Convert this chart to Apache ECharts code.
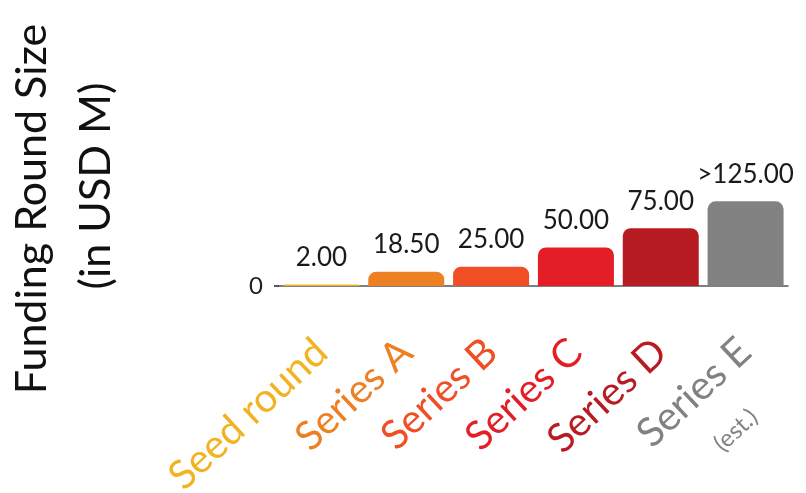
<!DOCTYPE html>
<html><head><meta charset="utf-8">
<script src="https://cdn.jsdelivr.net/npm/echarts@6/dist/echarts.min.js"></script>
<style>html,body{margin:0;padding:0;background:#fff}#c{width:806px;height:493px}</style>
</head><body><div id="c"></div>
<script>
const categories = ['Seed round', 'Series A', 'Series B', 'Series C', 'Series D', 'Series E'];
const subLabels = ['', '', '', '', '', '(est.)'];
// plotted heights (Series E bar is drawn capped, label reads >125.00)
const values = [2, 18.5, 25, 50, 75, 110];
const valueLabels = ['2.00', '18.50', '25.00', '50.00', '75.00', '>125.00'];
const barColors = ['#F2B322', '#EE8024', '#F04E24', '#E31E26', '#B71C23', '#828282'];
const yTickValues = [0];
const yTickLabels = ['0'];
const yTitleLine1 = 'Funding Round Size';
const yTitleLine2 = '(in USD M)';

const chart = echarts.init(document.getElementById('c'));
chart.setOption({
  animation: false,
  backgroundColor: '#fff',
  grid: { left: 279, right: 18, top: 132, bottom: 207, containLabel: false, outerBoundsMode: 'none' },
  xAxis: {
    type: 'category',
    data: categories,
    axisLine: { show: true, lineStyle: { color: '#555', width: 1.5 } },
    axisTick: { show: false },
    axisLabel: {
      interval: 0,
      rotate: 43,
      margin: 60,
      fontFamily: 'Lato',
      fontSize: 40,
      color: (v, i) => barColors[i],
      formatter: (v, i) => subLabels[i] ? '{m|' + v + '}\n{s|' + subLabels[i] + '}' : v,
      rich: {
        m: { fontFamily: 'Lato', fontSize: 40, color: barColors[5], padding: [46, 0, 0, 0] },
        s: { fontFamily: 'Lato', fontSize: 24, color: barColors[5], padding: [24, 40, 0, 0] }
      }
    }
  },
  yAxis: {
    type: 'value',
    min: 0, max: 200, interval: 200,
    splitLine: { show: false },
    axisLine: { show: false },
    axisTick: { show: true, customValues: yTickValues, length: 5, lineStyle: { color: '#222', width: 1.5 } },
    axisLabel: {
      fontFamily: 'Lato', fontSize: 24, color: '#222', margin: 16,
      customValues: yTickValues,
      formatter: (v) => yTickLabels[yTickValues.indexOf(v)]
    },
    name: '{a|' + yTitleLine1 + '}\n{b|' + yTitleLine2 + '}',
    nameLocation: 'middle',
    nameGap: 151,
    nameRotate: 90,
    nameTextStyle: {
      fontFamily: 'Lato', fontSize: 43, color: '#111', lineHeight: 64, align: 'center',
      rich: {
        a: { fontFamily: 'Lato', fontSize: 43, color: '#111', lineHeight: 64 },
        b: { fontFamily: 'Lato', fontSize: 43, color: '#111', lineHeight: 64, padding: [0, 0, 0, 46] }
      }
    }
  },
  series: [{
    type: 'bar',
    data: values.map((v, i) => ({ value: v, itemStyle: { color: barColors[i] } })),
    barWidth: 76,
    itemStyle: { borderRadius: [8, 8, 0, 0] },
    label: {
      show: true, position: 'top', distance: 14,
      fontFamily: 'Lato', fontSize: 26, color: '#1a1a1a',
      formatter: (p) => valueLabels[p.dataIndex]
    }
  }]
});
</script></body></html>
